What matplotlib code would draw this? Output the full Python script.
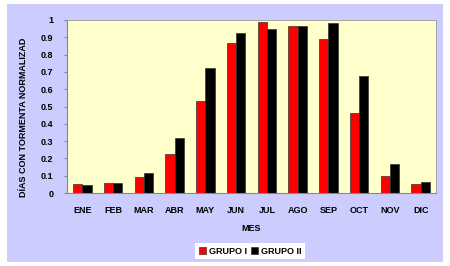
import numpy as np
import matplotlib.pyplot as plt

meses = ['ENE', 'FEB', 'MAR', 'ABR', 'MAY', 'JUN', 'JUL', 'AGO', 'SEP', 'OCT', 'NOV', 'DIC']
grupo1 = [0.05, 0.06, 0.095, 0.225, 0.53, 0.865, 0.99, 0.965, 0.89, 0.465, 0.10, 0.055]
grupo2 = [0.045, 0.06, 0.115, 0.32, 0.72, 0.925, 0.95, 0.965, 0.98, 0.675, 0.17, 0.065]
yticks = [0, 0.1, 0.2, 0.3, 0.4, 0.5, 0.6, 0.7, 0.8, 0.9, 1]

plt.rcParams['font.family'] = ['Liberation Sans', 'DejaVu Sans']
plt.rcParams['font.weight'] = 'bold'
plt.rcParams['axes.labelweight'] = 'bold'
plt.rcParams['font.size'] = 6.5

fig = plt.figure(figsize=(4.5, 2.66), dpi=100, facecolor='white')

# fondo lavanda del area del grafico
bg = fig.add_axes([7 / 450, 4 / 266, 436 / 450, 258 / 266], zorder=-1)
bg.set_facecolor('#CCCCFF')
bg.set_xticks([])
bg.set_yticks([])
for s in bg.spines.values():
    s.set_visible(False)

ax = fig.add_axes([0.149, 0.274, 0.82, 0.651])
ax.set_facecolor('#FFFFCC')

x = np.arange(len(meses))
w = 0.3
ax.bar(x - w / 2, grupo1, w, color='#FF0000', edgecolor='#333333', linewidth=0.5, label='GRUPO I')
ax.bar(x + w / 2, grupo2, w, color='#000000', edgecolor='#333333', linewidth=0.5, label='GRUPO II')

ax.set_xlim(-0.5, len(meses) - 0.5)
ax.set_ylim(0, 1)
ax.set_yticks(yticks)
ax.set_yticklabels([f'{v:g}' for v in yticks])
ax.set_xticks(x)
ax.set_xticklabels(meses)
ax.tick_params(axis='x', length=0, pad=9)
ax.tick_params(axis='y', length=2, color='#888888', pad=8)
for s in ['top', 'right']:
    ax.spines[s].set_color('#999999')
    ax.spines[s].set_linewidth(0.6)
for s in ['left', 'bottom']:
    ax.spines[s].set_color('#888888')
    ax.spines[s].set_linewidth(0.8)

ax.set_xlabel('MES', labelpad=7)
ax.set_ylabel('DÍAS CON TORMENTA NORMALIZAD')
ax.yaxis.set_label_coords(-0.107, 0.44)

leg = fig.legend(loc='center', bbox_to_anchor=(0.556, 0.056), ncol=2, frameon=True, fancybox=False,
                 handlelength=0.8, handleheight=0.8, handletextpad=0.3, columnspacing=0.5,
                 borderpad=0.4, edgecolor='none', framealpha=1, prop={'weight': 'bold'})

fig.savefig('out.png', dpi=100, facecolor='white')
